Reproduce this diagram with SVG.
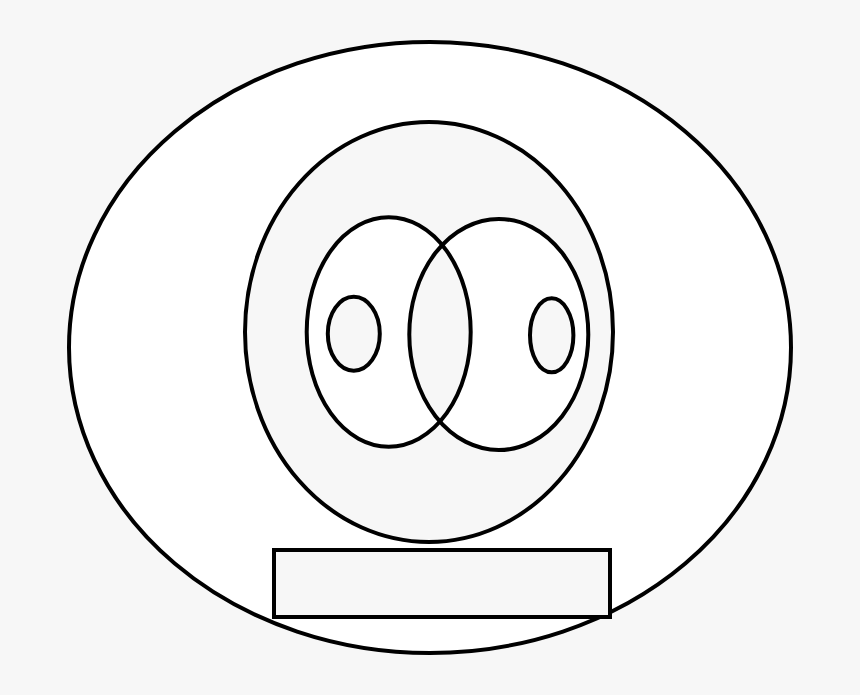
<svg xmlns="http://www.w3.org/2000/svg" width="860" height="695" viewBox="0 0 860 695">
<style>
.s{stroke:#000;stroke-width:4;}
.w{fill:#fff;}
.g{fill:#f7f7f7;}
</style>
<defs>
<clipPath id="cl"><ellipse cx="388.7" cy="332" rx="82" ry="114.7"/></clipPath>
</defs>
<rect width="860" height="695" fill="#f7f7f7"/>
<g id="outer"><ellipse class="s w" cx="430" cy="347.5" rx="361" ry="305.5"/></g>
<g id="inner"><ellipse class="s g" cx="429" cy="332" rx="184" ry="210"/></g>
<g id="pair">
<ellipse class="w" cx="388.7" cy="332" rx="82" ry="114.7"/>
<ellipse class="w" cx="498.8" cy="334.5" rx="89.5" ry="115.5"/>
<ellipse class="g" clip-path="url(#cl)" cx="498.8" cy="334.5" rx="89.5" ry="115.5"/>
<ellipse class="s" fill="none" cx="388.7" cy="332" rx="82" ry="114.7"/>
<ellipse class="s" fill="none" cx="498.8" cy="334.5" rx="89.5" ry="115.5"/>
</g>
<g id="small-left"><ellipse class="s g" cx="353.8" cy="333.7" rx="26" ry="37"/></g>
<g id="small-right"><ellipse class="s g" cx="551.7" cy="335.3" rx="21.7" ry="37"/></g>
<g id="box"><rect class="s g" x="274" y="550" width="336" height="67"/></g>
<g id="connectors"/>
</svg>
